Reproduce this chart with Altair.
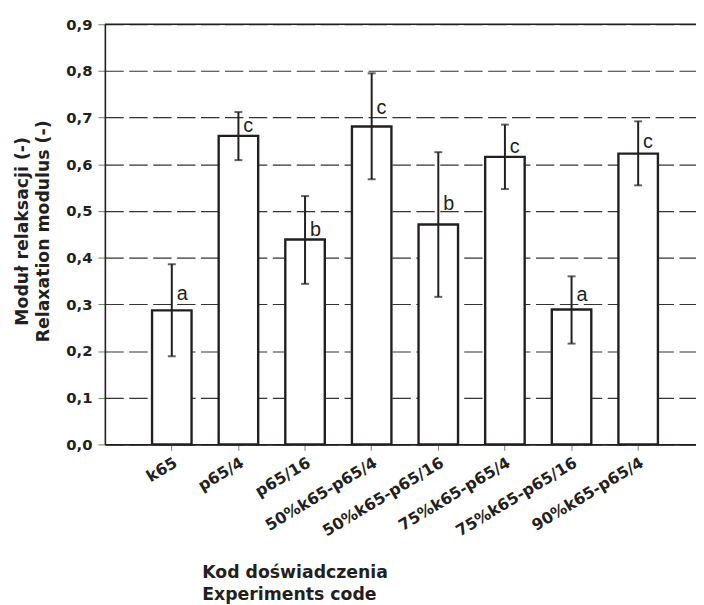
import altair as alt
import pandas as pd

codes = ["k65", "p65/4", "p65/16", "50%k65-p65/4", "50%k65-p65/16",
         "75%k65-p65/4", "75%k65-p65/16", "90%k65-p65/4"]
means = [0.287, 0.661, 0.439, 0.681, 0.471, 0.616, 0.289, 0.623]
upper = [0.386, 0.712, 0.532, 0.795, 0.626, 0.685, 0.360, 0.692]
lower = [0.189, 0.609, 0.344, 0.568, 0.316, 0.547, 0.216, 0.555]
groups = ["a", "c", "b", "c", "b", "c", "a", "c"]
group_label_y = [0.309, 0.669, 0.446, 0.708, 0.502, 0.624, 0.308, 0.635]
y_ticks = [0.0, 0.1, 0.2, 0.3, 0.4, 0.5, 0.6, 0.7, 0.8, 0.9]

df = pd.DataFrame({
    "code": codes, "mean": means, "upper": upper, "lower": lower,
    "group": groups, "gy": group_label_y,
})

INK = "#231f20"
AXF = "DejaVu Sans"

x_scale = alt.Scale(domain=codes, range=[0, 607.2], paddingInner=0.407, paddingOuter=0.708)
y_scale = alt.Scale(domain=[0, 0.9], nice=False, zero=True)

x_axis = alt.Axis(
    title=["Kod doświadczenia", "Experiments code"],
    labelAngle=329, labelAlign="right", labelBaseline="top",
    labelFont=AXF, labelFontWeight="bold", labelFontSize=16, labelColor=INK,
    labelPadding=4, labelOverlap=False, labelLimit=0,
    tickSize=6, tickColor="#808080", tickWidth=1,
    domainColor=INK, domainWidth=1.6,
    titleFont=AXF, titleFontSize=17.5, titleFontWeight="bold", titleColor=INK,
    titleAlign="left", titleX=98, titleY=135, titleBaseline="alphabetic",
    titleLineHeight=22, grid=False,
)
y_axis = alt.Axis(
    title=["Moduł relaksacji (-)", "Relaxation modulus (-)"],
    values=y_ticks,
    labelExpr="replace(format(datum.value, '.1f'), '.', ',')",
    labelFont=AXF, labelFontWeight="bold", labelFontSize=15, labelColor=INK,
    labelPadding=6,
    tickSize=7, tickColor="#5b8f5b", tickWidth=1,
    domainColor=INK, domainWidth=1.6,
    grid=True, gridDash=[18.6, 5.6], gridColor="#333333", gridWidth=1.2,
    titleFont=AXF, titleFontSize=17.5, titleFontWeight="bold", titleColor=INK,
    titleAngle=270, titleX=-78, titleY=209, titleAlign="center",
    titleBaseline="alphabetic", titleLineHeight=21,
)

X = alt.X("code:N", scale=x_scale, sort=codes, axis=x_axis)

base = alt.Chart(df)

bars = base.mark_bar(fill="white", stroke=INK, strokeWidth=2.4).encode(
    x=X, y=alt.Y("mean:Q", scale=y_scale, axis=y_axis)
)
err = base.mark_rule(color=INK, strokeWidth=2).encode(
    x=X, y=alt.Y("lower:Q", scale=y_scale, axis=y_axis), y2="upper:Q"
)
cap_up = base.mark_tick(color=INK, thickness=2, size=8).encode(
    x=X, y=alt.Y("upper:Q", scale=y_scale, axis=y_axis)
)
cap_lo = base.mark_tick(color=INK, thickness=2, size=8).encode(
    x=X, y=alt.Y("lower:Q", scale=y_scale, axis=y_axis)
)
letters = base.mark_text(
    align="left", baseline="alphabetic", dx=5, fontSize=20,
    font="Liberation Sans", color=INK,
).encode(x=X, y=alt.Y("gy:Q", scale=y_scale, axis=y_axis), text="group:N")

top_rule = alt.Chart(pd.DataFrame({"top": [0.9]})).mark_rule(
    color=INK, strokeWidth=1.6
).encode(y=alt.Y("top:Q", scale=y_scale, axis=y_axis))

chart = alt.layer(bars, err, cap_up, cap_lo, letters, top_rule).properties(
    width=598, height=425,
    autosize=alt.AutoSizeParams(type="none"),
    padding={"left": 98, "top": 13, "right": 0, "bottom": 159},
).configure_view(stroke=None).configure(background="white")

chart.save("out.html", embed_options={"renderer": "svg", "actions": False})
